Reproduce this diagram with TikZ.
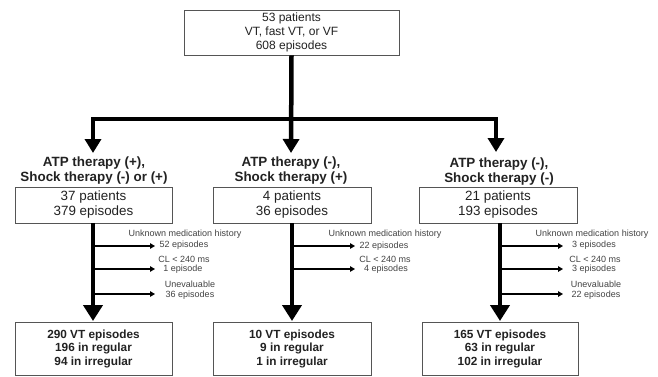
\documentclass[tikz,border=0pt]{standalone}
\usepackage{fontspec}
\setmainfont{Liberation Sans}
\usetikzlibrary{arrows.meta}
\definecolor{boxgray}{HTML}{555555}
\definecolor{txt}{HTML}{222222}
\begin{document}
\begin{tikzpicture}[x=1pt,y=-1pt,
  boxnode/.style={draw=boxgray,line width=0.9pt,inner sep=0pt,align=center,text=txt},
  topfont/.style={font=\fontsize{12}{14}\selectfont},
  midfont/.style={font=\fontsize{13.4}{15}\selectfont},
  botfont/.style={font=\bfseries\fontsize{11.8}{13.5}\selectfont},
  headfont/.style={font=\bfseries\fontsize{13.4}{15}\selectfont,align=center,text=txt,inner sep=0pt},
  lbl/.style={font=\fontsize{9}{11}\selectfont,text=txt!85,inner sep=0pt},
  thickarrow/.style={line width=4.5pt,line join=miter,-{Triangle[width=16pt,length=14pt]}},
  thickline/.style={line width=4.5pt},
  lowarrow/.style={line width=4.5pt,-{Triangle[width=19pt,length=16pt]}},
  thinarrow/.style={line width=1.4pt,-{Triangle[width=5.5pt,length=5pt]}}
]
\useasboundingbox (0,0) rectangle (658,377);
\fill[white] (0,0) rectangle (658,377);

% top box
\node[boxnode,topfont,minimum width=215pt,minimum height=45pt] (top) at (291.5,32.5)
  {53 patients\\VT, fast VT, or VF\\608 episodes};

% junction coordinates and arrow tips
\coordinate (jc) at (291,119);
\coordinate (tL) at (93,153);
\coordinate (tM) at (291,153);
\coordinate (tR) at (496,152);

\draw[thickarrow] (jc) -| (tL);
\draw[thickarrow] (jc) -| (tR);
\draw[thickarrow] (top.south) -- (tM);

% headings
\node[headfont] (hL) at (94,170.5) {ATP therapy (+),\\Shock therapy (-) or (+)};
\node[headfont] (hM) at (291,170.5) {ATP therapy (-),\\Shock therapy (+)};
\node[headfont] (hR) at (499,171.5) {ATP therapy (-),\\Shock therapy (-)};

% second-row boxes
\node[boxnode,midfont,minimum width=157pt,minimum height=36pt] (bL) at (93.5,205) {37 patients\\379 episodes};
\node[boxnode,midfont,minimum width=158pt,minimum height=36pt] (bM) at (292,205) {4 patients\\36 episodes};
\node[boxnode,midfont,minimum width=158pt,minimum height=36pt] (bR) at (498,205) {21 patients\\193 episodes};

% bottom boxes
\node[boxnode,botfont,minimum width=157pt,minimum height=53pt] (cL) at (93.5,348.5) {290 VT episodes\\196 in regular\\94 in irregular};
\node[boxnode,botfont,minimum width=158pt,minimum height=53pt] (cM) at (292,348.5) {10 VT episodes\\9 in regular\\1 in irregular};
\node[boxnode,botfont,minimum width=156pt,minimum height=53pt] (cR) at (500,348.5) {165 VT episodes\\63 in regular\\102 in irregular};

% vertical stems
\coordinate (sL) at (93,223);
\coordinate (sM) at (292,223);
\coordinate (sR) at (500,223);
\coordinate (eL) at (93,321);
\coordinate (eM) at (292,321);
\coordinate (eR) at (500,321);
\draw[lowarrow] (sL) -- (eL);
\draw[lowarrow] (sM) -- (eM);
\draw[lowarrow] (sR) -- (eR);

% side branches (left)
\coordinate (l1) at (93,246);  \coordinate (l1e) at (155,246);
\coordinate (l2) at (93,269);  \coordinate (l2e) at (155,269);
\coordinate (l3) at (93,294);  \coordinate (l3e) at (155,294);
\draw[thinarrow] (l1) -- (l1e);
\draw[thinarrow] (l2) -- (l2e);
\draw[thinarrow] (l3) -- (l3e);
% middle
\coordinate (m1) at (292,246);  \coordinate (m1e) at (355,246);
\coordinate (m2) at (292,269);  \coordinate (m2e) at (355,269);
\draw[thinarrow] (m1) -- (m1e);
\draw[thinarrow] (m2) -- (m2e);
% right
\coordinate (r1) at (500,246);  \coordinate (r1e) at (563,246);
\coordinate (r2) at (500,269);  \coordinate (r2e) at (563,269);
\coordinate (r3) at (500,294);  \coordinate (r3e) at (563,294);
\draw[thinarrow] (r1) -- (r1e);
\draw[thinarrow] (r2) -- (r2e);
\draw[thinarrow] (r3) -- (r3e);

% labels left
\node[lbl] (la1) at (185,234) {Unknown medication history};
\node[lbl] (la2) at (184,245) {52 episodes};
\node[lbl] (la3) at (184,259) {CL < 240 ms};
\node[lbl] (la4) at (183,269) {1 episode};
\node[lbl] (la5) at (190,284) {Unevaluable};
\node[lbl] (la6) at (190,295) {36 episodes};
% labels middle
\node[lbl] (ma1) at (385,234) {Unknown medication history};
\node[lbl] (ma2) at (384,246) {22 episodes};
\node[lbl] (ma3) at (385,259) {CL < 240 ms};
\node[lbl] (ma4) at (386,269) {4 episodes};
% labels right
\node[lbl] (ra1) at (592,234) {Unknown medication history};
\node[lbl] (ra2) at (594,245) {3 episodes};
\node[lbl] (ra3) at (595,259) {CL < 240 ms};
\node[lbl] (ra4) at (594,269) {3 episodes};
\node[lbl] (ra5) at (596,284) {Unevaluable};
\node[lbl] (ra6) at (596,295) {22 episodes};
\end{tikzpicture}
\end{document}
